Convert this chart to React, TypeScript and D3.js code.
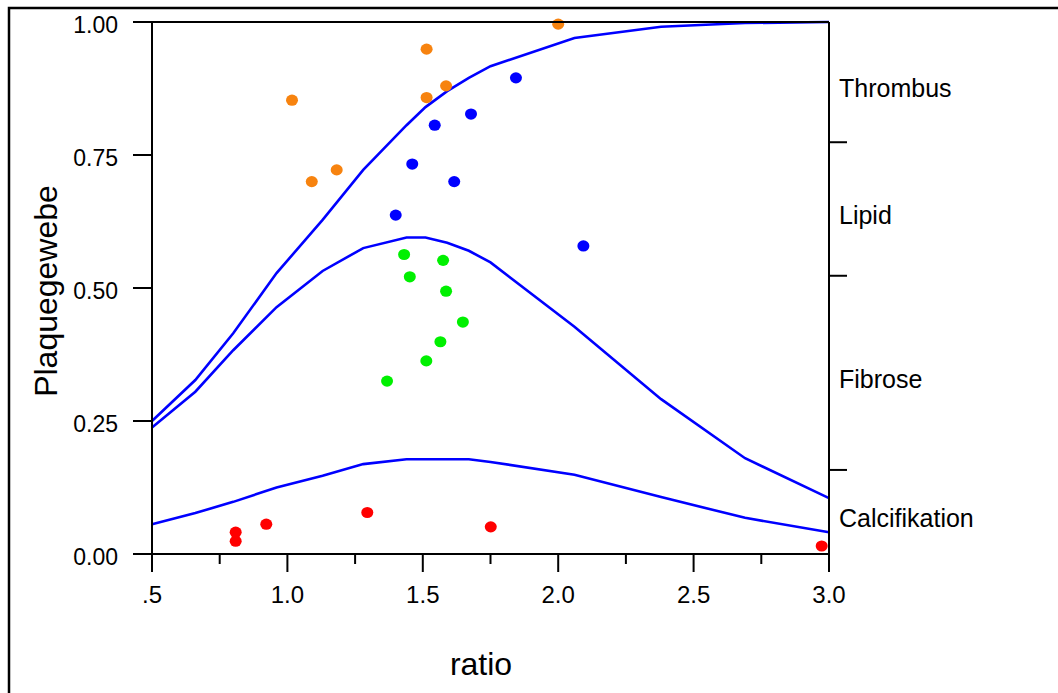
import React from "react";
import * as d3 from "d3";

// ---------- data ----------
const curveX = [0.5, 0.66, 0.8, 0.96, 1.13, 1.28, 1.44, 1.51, 1.59, 1.67, 1.75, 2.06, 2.38, 2.69, 3.0];
const curveThrombus = [0.25, 0.327, 0.415, 0.528, 0.628, 0.722, 0.806, 0.84, 0.87, 0.895, 0.917, 0.97, 0.991, 0.998, 1.0];
const curveLipid = [0.238, 0.305, 0.383, 0.464, 0.532, 0.575, 0.595, 0.595, 0.585, 0.57, 0.548, 0.427, 0.291, 0.18, 0.105];
const curveFibrose = [0.056, 0.077, 0.098, 0.125, 0.147, 0.169, 0.178, 0.178, 0.178, 0.178, 0.173, 0.149, 0.107, 0.068, 0.041];

const thrombusX = [1.514, 1.586, 1.514, 1.017, 1.182, 1.09, 2.0];
const thrombusY = [0.949, 0.88, 0.858, 0.853, 0.722, 0.7, 0.996];
const lipidX = [1.678, 1.544, 1.461, 1.616, 1.4, 1.844, 2.093];
const lipidY = [0.827, 0.806, 0.733, 0.7, 0.637, 0.895, 0.579];
const fibroseX = [1.431, 1.575, 1.452, 1.586, 1.648, 1.565, 1.513, 1.368];
const fibroseY = [0.563, 0.552, 0.521, 0.494, 0.436, 0.399, 0.363, 0.325];
const calcX = [0.809, 0.809, 0.922, 1.295, 1.751, 2.973];
const calcY = [0.041, 0.024, 0.056, 0.078, 0.051, 0.015];

const xMajorTicks = [0.5, 1.0, 1.5, 2.0, 2.5, 3.0];
const xTickLabels = [".5", "1.0", "1.5", "2.0", "2.5", "3.0"];
const xMinorTicks = [0.75, 1.25, 1.75, 2.25, 2.75];
const yTicks = [0, 0.25, 0.5, 0.75, 1.0];
const yTickLabels = ["0.00", "0.25", "0.50", "0.75", "1.00"];
const rightBoundaries = [0.774, 0.523, 0.158];
const categoryNames = ["Thrombus", "Lipid", "Fibrose", "Calcifikation"];

const colors = { thrombus: "#f7830f", lipid: "#0000ff", fibrose: "#00f000", calc: "#ff0000" };

export default function App() {
  const W = 1058, H = 693;
  const L = 152, R = 829, T = 22, B = 554;
  const x = d3.scaleLinear().domain([0.5, 3.0]).range([L, R]);
  const y = d3.scaleLinear().domain([0, 1]).range([B, T]);
  const line = d3.line<[number, number]>().x(d => x(d[0])).y(d => y(d[1])).curve(d3.curveLinear);
  const curves = [curveThrombus, curveLipid, curveFibrose].map(c => curveX.map((v, i) => [v, c[i]] as [number, number]));
  const groups = [
    { xs: thrombusX, ys: thrombusY, color: colors.thrombus },
    { xs: lipidX, ys: lipidY, color: colors.lipid },
    { xs: fibroseX, ys: fibroseY, color: colors.fibrose },
    { xs: calcX, ys: calcY, color: colors.calc },
  ];
  const font = "'Liberation Sans', Arial, Helvetica, sans-serif";
  const bounds = [1, ...rightBoundaries, 0];

  return (
    <svg width={W} height={H} style={{ position: "absolute", left: 0, top: 0, background: "#fff" }} fontFamily={font}>
      <rect x={0} y={0} width={W} height={H} fill="#fff" />
      <rect x={9} y={8} width={W + 20} height={H + 20} fill="none" stroke="#000" strokeWidth={2.5} />

      {/* curves */}
      {curves.map((c, i) => (
        <path key={i} d={line(c) || ""} fill="none" stroke="#0000ff" strokeWidth={2.6} />
      ))}

      {/* points */}
      {groups.map((g, gi) =>
        g.xs.map((v, i) => (
          <ellipse key={gi + "-" + i} cx={x(v)} cy={y(g.ys[i])} rx={6} ry={5.6} fill={g.color} />
        ))
      )}

      {/* frame / axes */}
      <g stroke="#000" strokeWidth={2} fill="none">
        <line x1={L} y1={T} x2={R} y2={T} />
        <line x1={L} y1={T} x2={L} y2={B} />
        <line x1={R} y1={T} x2={R} y2={B} />
        <line x1={L} y1={B} x2={R} y2={B} />
        {yTicks.map(t => (
          <line key={"yt" + t} x1={L - 19} x2={L} y1={y(t)} y2={y(t)} />
        ))}
        {xMajorTicks.map(t => (
          <line key={"xt" + t} x1={x(t)} x2={x(t)} y1={B} y2={B + 18} />
        ))}
        {xMinorTicks.map(t => (
          <line key={"xm" + t} x1={x(t)} x2={x(t)} y1={B} y2={B + 10} />
        ))}
        {rightBoundaries.map(t => (
          <line key={"rb" + t} x1={R} x2={R + 18} y1={y(t)} y2={y(t)} />
        ))}
      </g>

      {/* tick labels */}
      {yTicks.map((t, i) => (
        <text key={"yl" + t} x={118} y={y(t) + 11} textAnchor="end" fontSize={23} fill="#000">
          {yTickLabels[i]}
        </text>
      ))}
      {xMajorTicks.map((t, i) => (
        <text key={"xl" + t} x={x(t)} y={603} textAnchor="middle" fontSize={24} fill="#000">
          {xTickLabels[i]}
        </text>
      ))}

      {/* category labels */}
      {categoryNames.map((n, i) => (
        <text key={n} x={839} y={y((bounds[i] + bounds[i + 1]) / 2) + 15} fontSize={25} fill="#000">
          {n}
        </text>
      ))}

      {/* axis titles */}
      <text x={481} y={675} textAnchor="middle" fontSize={32} fill="#000">ratio</text>
      <text transform={`translate(57,291) rotate(-90)`} textAnchor="middle" fontSize={32} fill="#000">Plaquegewebe</text>
    </svg>
  );
}
